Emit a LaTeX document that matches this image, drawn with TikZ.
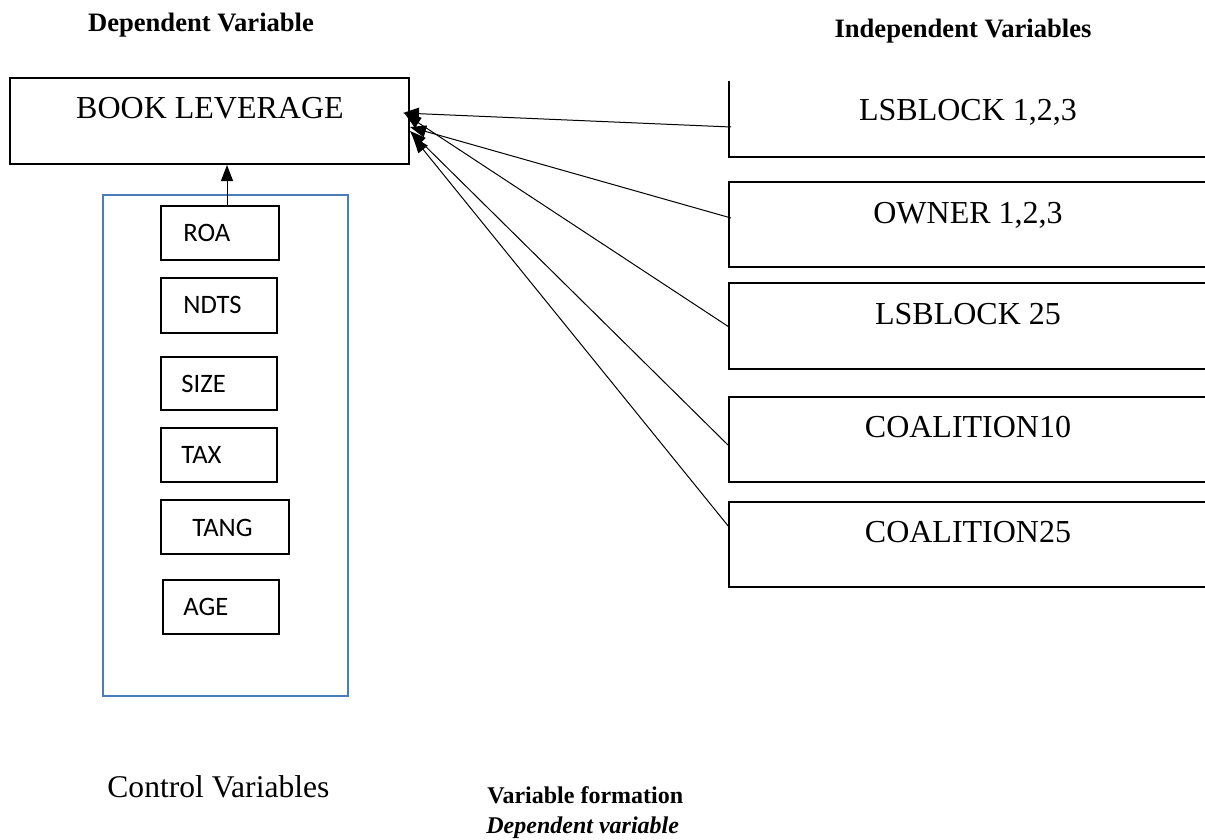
\documentclass[tikz,border=0pt]{standalone}
\usepackage{fontspec}
\setmainfont{Liberation Serif}
\newfontfamily\calfont{Carlito}
\usetikzlibrary{arrows.meta}
\definecolor{ctrlblue}{RGB}{74,126,187}
\begin{document}
\begin{tikzpicture}[x=0.5pt,y=-0.5pt,
  box/.style={draw,line width=1pt,rectangle,inner sep=0pt},
  smallbox/.style={draw,line width=1pt,rectangle,inner sep=0pt},
  lbl/.style={inner sep=0pt,anchor=base,font=\fontsize{16}{19}\selectfont},
  slbl/.style={inner sep=0pt,anchor=base west,font=\calfont\fontsize{13.3}{16}\selectfont},
  head/.style={inner sep=0pt,anchor=base,font=\bfseries\fontsize{13.3}{16}\selectfont},
  conn/.style={line width=0.5pt,-{Triangle[length=8pt,width=6pt]}}]
\useasboundingbox (0,0) rectangle (1205,840);
% headers
\node[head] (hdep) at (201,32) {Dependent Variable};
\node[head] (hind) at (963,38) {Independent Variables};
% dependent box
\node[box,minimum width=199.5pt,minimum height=43pt] (book) at (209.5,121) {};
\node[lbl] (tbook) at (210,119) {BOOK LEVERAGE};
% independent boxes
\node[inner sep=0pt,minimum width=243pt,minimum height=38pt] (lsb1) at (972,119) {};
\draw[line width=1pt] (lsb1.north west) -- (lsb1.south west) -- (lsb1.south east);
\node[lbl] (tlsb1) at (968,120) {LSBLOCK 1,2,3};
\node[box,minimum width=243pt,minimum height=42.5pt] (own) at (972,224.5) {};
\node[lbl] (town) at (968,223) {OWNER 1,2,3};
\node[box,minimum width=243pt,minimum height=43pt] (lsb25) at (972,326) {};
\node[lbl] (tlsb25) at (968,324) {LSBLOCK 25};
\node[box,minimum width=243pt,minimum height=42.5pt] (coa10) at (972,439.5) {};
\node[lbl] (tcoa10) at (968,437) {COALITION10};
\node[box,minimum width=243pt,minimum height=42.5pt] (coa25) at (972,544.5) {};
\node[lbl] (tcoa25) at (968,542) {COALITION25};
% control block
\node[draw=ctrlblue,line width=1pt,inner sep=0pt,minimum width=122.5pt,minimum height=250.5pt] (ctrl) at (225.5,445.5) {};
\node[smallbox,minimum width=59pt,minimum height=27pt] (roa) at (220,233) {};
\node[slbl] (troa) at (183,242) {ROA};
\node[smallbox,minimum width=58pt,minimum height=27.5pt] (ndts) at (219,305.5) {};
\node[slbl] (tndts) at (183,313) {NDTS};
\node[smallbox,minimum width=58pt,minimum height=26.5pt] (size) at (219,383.5) {};
\node[slbl] (tsize) at (181,392) {SIZE};
\node[smallbox,minimum width=58pt,minimum height=27pt] (tax) at (219,455) {};
\node[slbl] (ttax) at (181,463) {TAX};
\node[smallbox,minimum width=64pt,minimum height=27pt] (tang) at (225,527) {};
\node[slbl] (ttang) at (192,536) {TANG};
\node[smallbox,minimum width=58pt,minimum height=27pt] (age) at (221,607) {};
\node[slbl] (tage) at (183,615) {AGE};
% ROA to book
\draw[conn] ([xshift=3.5pt]roa.north) -- ([xshift=3.5pt]roa.north |- book.south);
% connectors from independent variables
\coordinate (s1) at (731,127);
\coordinate (s2) at (731,218);
\coordinate (s3) at (729,327);
\coordinate (s4) at (729,446);
\coordinate (s5) at (729,527);
\coordinate (e1) at (403,113);
\coordinate (e2) at (410,127);
\coordinate (e3) at (405,114);
\coordinate (e4) at (410,131);
\coordinate (e5) at (413,137);
\draw[conn] (s1) -- (e1);
\draw[conn] (s2) -- (e2);
\draw[conn] (s3) -- (e3);
\draw[conn] (s4) -- (e4);
\draw[conn] (s5) -- (e5);
% bottom texts
\node[inner sep=0pt,anchor=base west,font=\fontsize{15.8}{19}\selectfont] (tctrl) at (107,797) {Control Variables};
\node[inner sep=0pt,anchor=base west,font=\bfseries\fontsize{12}{14}\selectfont] (tform) at (487,803) {Variable formation};
\node[inner sep=0pt,anchor=base west,font=\bfseries\itshape\fontsize{12}{14}\selectfont] (tdepv) at (486,833) {Dependent variable};
\end{tikzpicture}
\end{document}
